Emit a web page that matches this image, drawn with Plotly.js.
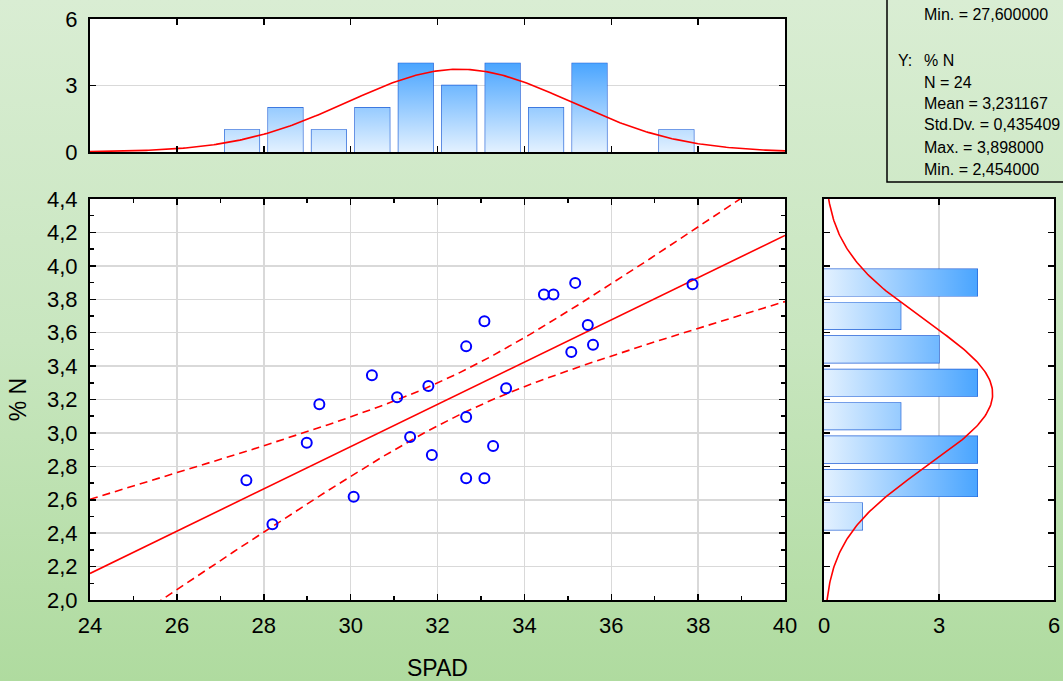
<!DOCTYPE html>
<html><head><meta charset="utf-8">
<script src="https://cdn.plot.ly/plotly-3.0.1.min.js"></script>
<style>
html,body{margin:0;padding:0;}
body{width:1063px;height:681px;overflow:hidden;background:linear-gradient(to bottom,#d9edd3 0%,#c8e6bf 50%,#afdb9f 100%);}
#chart{width:1063px;height:681px;}
</style>
</head><body><div id="chart"></div>
<script>
// ---- data ----
const spad = [27.6, 28.2, 28.99, 29.28, 30.07, 30.49, 31.07, 31.37, 31.79, 31.87,
              32.66, 32.66, 32.66, 33.08, 33.08, 33.28, 33.58, 34.45, 34.67, 35.08,
              35.17, 35.46, 35.58, 37.87];
const pctN = [2.716, 2.454, 2.941, 3.171, 2.618, 3.345, 3.213, 2.976, 3.281, 2.868,
              3.518, 3.095, 2.728, 3.668, 2.728, 2.922, 3.267, 3.829, 3.829, 3.484,
              3.898, 3.646, 3.528, 3.89];
const spadBinCenters = [27.5, 28.5, 29.5, 30.5, 31.5, 32.5, 33.5, 34.5, 35.5, 37.5];
const spadCounts     = [1, 2, 1, 2, 4, 3, 4, 2, 4, 1];
const nBinCenters = [2.5, 2.7, 2.9, 3.1, 3.3, 3.5, 3.7, 3.9];
const nCounts     = [1, 4, 4, 2, 4, 3, 2, 4];
const statLines = ["Min. = 27,600000", "", "% N", "N = 24", "Mean = 3,231167",
                   "Std.Dv. = 0,435409", "Max. = 3,898000", "Min. = 2,454000"];
const mainXTicks = [24, 26, 28, 30, 32, 34, 36, 38, 40];

// ---- statistics derived from the data ----
const n = spad.length;
const mean = a => a.reduce((s, v) => s + v, 0) / a.length;
const mx = mean(spad), my = mean(pctN);
let sxx = 0, sxy = 0, syy = 0;
for (let i = 0; i < n; i++) { sxx += (spad[i]-mx)**2; sxy += (spad[i]-mx)*(pctN[i]-my); syy += (pctN[i]-my)**2; }
const slope = sxy / sxx, icpt = my - slope * mx;
let sse = 0; for (let i = 0; i < n; i++) sse += (pctN[i] - icpt - slope*spad[i])**2;
const se = Math.sqrt(sse / (n - 2));
const tval = 2.0739; // t(0.975, 22)
const sdx = Math.sqrt(sxx/(n-1)), sdy = Math.sqrt(syy/(n-1));

const lx = [], lyFit = [], lyUp = [], lyLo = [];
for (let x = 24; x <= 40.0001; x += 0.1) {
  const f = icpt + slope*x;
  const h = tval * se * Math.sqrt(1/n + (x-mx)**2/sxx);
  lx.push(x); lyFit.push(f); lyUp.push(f + h); lyLo.push(f - h);
}
const pdf = (v, m, s) => Math.exp(-0.5*((v-m)/s)**2) / (s*Math.sqrt(2*Math.PI));
const nxX = [], nxY = [];
for (let x = 24; x <= 40.0001; x += 0.05) { nxX.push(x); nxY.push(n*1*pdf(x, mx, sdx)); }
const nyY = [], nyX = [];
for (let y = 2.0; y <= 4.4001; y += 0.01) { nyY.push(y); nyX.push(n*0.2*pdf(y, my, sdy)); }

// gradient fills under the bars (polygons built from bin centers/counts)
const px = [], py = [];
spadBinCenters.forEach((c, i) => { const k = spadCounts[i];
  px.push(c-0.4, c-0.4, c+0.4, c+0.4, c-0.4, null); py.push(0, k, k, 0, 0, null); });
const qx = [], qy = [];
nBinCenters.forEach((c, i) => { const k = nCounts[i];
  qy.push(c-0.08, c+0.08, c+0.08, c-0.08, c-0.08, null); qx.push(0, 0, k, k, 0, null); });

const barLine = {color: '#1f5ed6', width: 1.3};
const grad = [[0, '#e3f1ff'], [1, '#4aa5ff']];
const red = '#ff0000';

const data = [
  // top histogram
  {type:'scatter', x:px, y:py, xaxis:'x2', yaxis:'y2', mode:'none', fill:'toself',
   fillgradient:{type:'vertical', start:0, stop:4, colorscale:grad}, hoverinfo:'skip'},
  {type:'bar', x:spadBinCenters, y:spadCounts, xaxis:'x2', yaxis:'y2', width:0.8,
   marker:{color:'rgba(0,0,0,0)', line:barLine}},
  {type:'scatter', x:nxX, y:nxY, xaxis:'x2', yaxis:'y2', mode:'lines', line:{color:red, width:1.6}},
  // right histogram
  {type:'scatter', x:qx, y:qy, xaxis:'x3', yaxis:'y3', mode:'none', fill:'toself',
   fillgradient:{type:'horizontal', start:0, stop:4, colorscale:grad}, hoverinfo:'skip'},
  {type:'bar', orientation:'h', y:nBinCenters, x:nCounts, xaxis:'x3', yaxis:'y3', width:0.16,
   marker:{color:'rgba(0,0,0,0)', line:barLine}},
  {type:'scatter', x:nyX, y:nyY, xaxis:'x3', yaxis:'y3', mode:'lines', line:{color:red, width:1.6}},
  // scatter plot
  {type:'scatter', x:lx, y:lyUp, mode:'lines', line:{color:red, width:1.6, dash:'8px,5px'}},
  {type:'scatter', x:lx, y:lyLo, mode:'lines', line:{color:red, width:1.6, dash:'8px,5px'}},
  {type:'scatter', x:lx, y:lyFit, mode:'lines', line:{color:red, width:1.6}},
  {type:'scatter', x:spad, y:pctN, mode:'markers',
   marker:{symbol:'circle-open', size:10, color:'#0000ff', line:{width:2, color:'#0000ff'}}}
];

const W = 1063, H = 681;
const fx = p => p / W, fy = p => 1 - p / H;
const font = {family:'"Liberation Sans", Arial, sans-serif', color:'#000'};
const tickFont = Object.assign({}, font, {size:22});
const common = {showline:true, linecolor:'#000', linewidth:2, mirror:'allticks', ticks:'inside',
  tickcolor:'#000', tickwidth:1.5, ticklen:6, zeroline:false, gridcolor:'#d9d9d9', gridwidth:1.5,
  tickfont:tickFont, fixedrange:true};

const layout = {
  width:W, height:H, margin:{l:0, r:0, t:0, b:0},
  paper_bgcolor:'rgba(0,0,0,0)', plot_bgcolor:'#ffffff',
  showlegend:false, separators:', ', hovermode:false, barmode:'overlay',
  font:font,
  xaxis: Object.assign({}, common, {domain:[fx(90), fx(785)], range:[24,40], anchor:'y',
    tickvals:mainXTicks, showgrid:true, ticklabelstandoff:5,
    minor:{dtick:1, tick0:24, ticks:'inside', ticklen:4, tickcolor:'#000', showgrid:false},
    title:{text:'SPAD', font:Object.assign({}, font, {size:23}), standoff:22}}),
  yaxis: Object.assign({}, common, {domain:[fy(600), fy(199)], range:[2,4.4], anchor:'x',
    dtick:0.2, tick0:2, tickformat:'.1f', showgrid:true, ticklabelstandoff:6,
    minor:{dtick:0.1, tick0:2, ticks:'inside', ticklen:4, tickcolor:'#000', showgrid:false},
    title:{text:'% N', font:Object.assign({}, font, {size:23}), standoff:14}}),
  xaxis2: Object.assign({}, common, {domain:[fx(90), fx(785)], range:[24,40], anchor:'y2',
    dtick:2, tick0:24, showticklabels:false, showgrid:false}),
  yaxis2: Object.assign({}, common, {domain:[fy(152), fy(19)], range:[0,6], anchor:'x2',
    dtick:3, tick0:0, showgrid:true, ticklabelstandoff:6}),
  xaxis3: Object.assign({}, common, {domain:[fx(824), fx(1054)], range:[0,6], anchor:'y3',
    dtick:3, tick0:0, showgrid:true, ticklabelstandoff:5}),
  yaxis3: Object.assign({}, common, {domain:[fy(600), fy(199)], range:[2,4.4], anchor:'x3',
    dtick:0.2, tick0:2, showticklabels:false, showgrid:false}),
  shapes: [
    {type:'rect', xref:'paper', yref:'paper', x0:fx(887), x1:1.05, y0:fy(182), y1:1.05,
     line:{color:'#000', width:1.5}, fillcolor:'rgba(0,0,0,0)'}
  ],
  annotations: []
};
const lineY = [15, 37, 60, 82, 103, 125, 147, 169];
statLines.forEach((t, i) => {
  if (!t) return;
  layout.annotations.push({xref:'paper', yref:'paper', x:fx(922), y:fy(lineY[i]), xanchor:'left',
    yanchor:'middle', showarrow:false, text:t, font:Object.assign({}, font, {size:16})});
});
layout.annotations.push({xref:'paper', yref:'paper', x:fx(896), y:fy(lineY[2]), xanchor:'left',
  yanchor:'middle', showarrow:false, text:'Y:', font:Object.assign({}, font, {size:16})});

Plotly.newPlot('chart', data, layout, {staticPlot:true, displayModeBar:false});
</script>
</body></html>
